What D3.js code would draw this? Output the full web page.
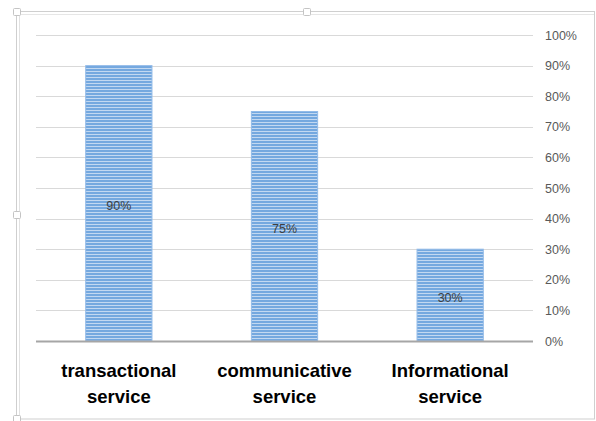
<!DOCTYPE html>
<html><head><meta charset="utf-8">
<script src="https://cdn.jsdelivr.net/npm/d3@7"></script>
<style>html,body{margin:0;padding:0;background:#fff;}svg{display:block;}</style>
</head><body>
<svg id="chart" width="596" height="421"></svg>
<script>
const categories = [["transactional","service"],["communicative","service"],["Informational","service"]];
const values = [0.90, 0.75, 0.30];
const valueLabels = ["90%","75%","30%"];
const tickValues = [0,0.1,0.2,0.3,0.4,0.5,0.6,0.7,0.8,0.9,1.0];

const svg = d3.select("#chart");
const defs = svg.append("defs");
const pat = defs.append("pattern").attr("id","stripes").attr("patternUnits","userSpaceOnUse")
  .attr("width",4).attr("height",3);
pat.append("rect").attr("width",4).attr("height",3).attr("fill","#c2d8f1");
pat.append("rect").attr("width",4).attr("height",2).attr("fill","#74a8df");

// frame
const frame = svg.append("g");
frame.append("rect").attr("x",16.5).attr("y",11.5).attr("width",578).attr("height",407.5)
  .attr("fill","none").attr("stroke","#cfcfcf").attr("stroke-width",1);
frame.append("line").attr("x1",19.5).attr("x2",19.5).attr("y1",14).attr("y2",417).attr("stroke","#e2e2e2");
frame.append("line").attr("x1",19).attr("x2",594).attr("y1",14.5).attr("y2",14.5).attr("stroke","#e6e6e6");
[[17,12],[307,12],[17,215],[17,419]].forEach(([px,py])=>{
  frame.append("rect").attr("x",px-3.5).attr("y",py-3.5).attr("width",7).attr("height",7).attr("rx",1)
    .attr("fill","#fff").attr("stroke","#c4c4c4");
});

const mLeft = 36, mRight = 533, mTop = 35, mBottom = 341;
const x = d3.scaleBand().domain(d3.range(values.length)).range([mLeft,mRight]).paddingInner(0.6).paddingOuter(0.3);
const y = d3.scaleLinear().domain([0,1]).range([mBottom,mTop]);

// gridlines
svg.append("g").selectAll("line").data(tickValues.filter(d=>d>0)).join("line")
  .attr("x1",mLeft).attr("x2",mRight).attr("y1",d=>Math.round(y(d))+0.5).attr("y2",d=>Math.round(y(d))+0.5)
  .attr("stroke","#d9d9d9").attr("stroke-width",1);

// bars
svg.append("g").selectAll("rect").data(values).join("rect")
  .attr("x",(d,i)=>x(i)).attr("y",d=>y(d)).attr("width",x.bandwidth()).attr("height",d=>mBottom-y(d))
  .attr("fill","url(#stripes)").attr("stroke","#93bbe8").attr("stroke-width",1);

// baseline
svg.append("line").attr("x1",mLeft).attr("x2",mRight).attr("y1",mBottom+0.5).attr("y2",mBottom+0.5)
  .attr("stroke","#a6a6a6").attr("stroke-width",2);

// right axis
const axis = d3.axisRight(y).tickValues(tickValues).tickFormat(d3.format(".0%")).tickSize(0).tickPadding(12);
const ag = svg.append("g").attr("transform",`translate(${mRight},0)`).call(axis);
ag.select(".domain").remove();
ag.selectAll("text").attr("fill","#595959").style("font-family","'Liberation Sans', Arial, sans-serif").style("font-size","12.5px");

// value labels
svg.append("g").selectAll("text").data(values).join("text")
  .attr("x",(d,i)=>x(i)+x.bandwidth()/2).attr("y",d=>(y(d)+mBottom)/2+7)
  .attr("text-anchor","middle").attr("fill","#404040")
  .style("font-family","'Liberation Sans', Arial, sans-serif").style("font-size","12.5px")
  .text((d,i)=>valueLabels[i]);

// category labels
const cg = svg.append("g").selectAll("text").data(categories).join("text")
  .attr("x",(d,i)=>x(i)+x.bandwidth()/2).attr("y",377)
  .attr("text-anchor","middle").attr("fill","#000")
  .style("font-family","'Liberation Sans', Arial, sans-serif").style("font-size","18.5px").style("font-weight","bold");
cg.selectAll("tspan").data(d=>d).join("tspan")
  .attr("x",function(){return this.parentNode.getAttribute("x");})
  .attr("dy",(d,i)=>i===0?0:26).text(d=>d);
</script>
</body></html>
